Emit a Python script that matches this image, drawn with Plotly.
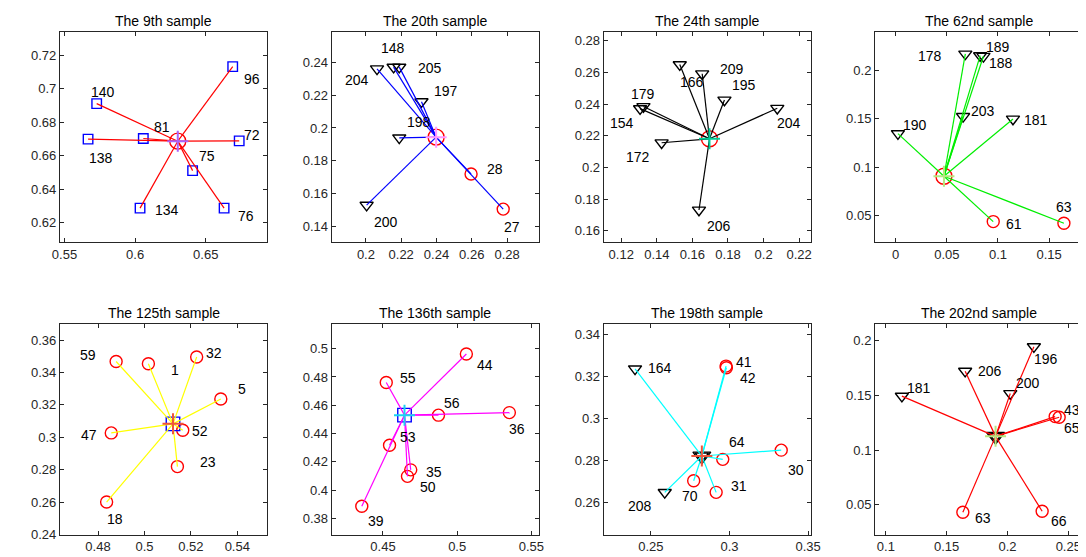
import plotly.graph_objects as go

W, H = 1086, 557

# ---------------- data ----------------
titles = ["The 9th sample", "The 20th sample", "The 24th sample", "The 62nd sample",
          "The 125th sample", "The 136th sample", "The 198th sample", "The 202nd sample"]
sample_ids = [9, 20, 24, 62, 125, 136, 198, 202]
center_x = [0.6302, 0.2398, 0.1696, 0.0472, 0.5123, 0.4645, 0.2824, 0.1902]
center_y = [0.6686, 0.1944, 0.2181, 0.0907, 0.3083, 0.4530, 0.2820, 0.1125]

nb_ids_9 = [96, 140, 81, 138, 72, 75, 134, 76]
nb_x_9 = [0.6691, 0.5728, 0.6058, 0.5667, 0.6737, 0.6407, 0.6035, 0.6630]
nb_y_9 = [0.7131, 0.6910, 0.6702, 0.6698, 0.6688, 0.6510, 0.6286, 0.6286]

nb_ids_20 = [148, 205, 204, 197, 198, 200, 28, 27]
nb_x_20 = [0.2157, 0.2189, 0.2063, 0.2315, 0.2189, 0.2004, 0.2596, 0.2778]
nb_y_20 = [0.2370, 0.2370, 0.2360, 0.2160, 0.1940, 0.1530, 0.1720, 0.1506]

nb_ids_24 = [209, 166, 195, 204, 179, 154, 172, 206]
nb_x_24 = [0.1655, 0.1529, 0.1780, 0.2077, 0.1325, 0.1306, 0.1427, 0.1637]
nb_y_24 = [0.2592, 0.2650, 0.2426, 0.2374, 0.2385, 0.2372, 0.2156, 0.1731]

nb_ids_62 = [178, 189, 188, 203, 181, 190, 61, 63]
nb_x_62 = [0.0681, 0.0826, 0.0858, 0.0659, 0.1147, 0.0022, 0.0954, 0.1645]
nb_y_62 = [0.2170, 0.2153, 0.2146, 0.1525, 0.1498, 0.1348, 0.0439, 0.0422]

nb_ids_125 = [59, 1, 32, 5, 47, 52, 23, 18]
nb_x_125 = [0.4878, 0.5017, 0.5225, 0.5329, 0.4857, 0.5165, 0.5142, 0.4837]
nb_y_125 = [0.3468, 0.3454, 0.3496, 0.3236, 0.3027, 0.3043, 0.2819, 0.2600]

nb_ids_136 = [44, 55, 56, 36, 53, 35, 50, 39]
nb_x_136 = [0.5062, 0.4522, 0.4874, 0.5352, 0.4544, 0.4687, 0.4665, 0.4357]
nb_y_136 = [0.4963, 0.4761, 0.4530, 0.4548, 0.4317, 0.4143, 0.4097, 0.3886]

nb_ids_198 = [164, 41, 42, 64, 30, 31, 70, 208]
nb_x_198 = [0.2399, 0.2978, 0.2980, 0.2957, 0.3329, 0.2915, 0.2772, 0.2588]
nb_y_198 = [0.3235, 0.3248, 0.3240, 0.2804, 0.2848, 0.2647, 0.2702, 0.2647]

nb_ids_202 = [196, 206, 200, 181, 43, 65, 63, 66]
nb_x_202 = [0.2217, 0.1652, 0.2023, 0.1132, 0.2392, 0.2425, 0.1633, 0.2285]
nb_y_202 = [0.1946, 0.1722, 0.1517, 0.1493, 0.1306, 0.1300, 0.0430, 0.0440]

nb_ids = [nb_ids_9, nb_ids_20, nb_ids_24, nb_ids_62, nb_ids_125, nb_ids_136, nb_ids_198, nb_ids_202]
nb_x = [nb_x_9, nb_x_20, nb_x_24, nb_x_62, nb_x_125, nb_x_136, nb_x_198, nb_x_202]
nb_y = [nb_y_9, nb_y_20, nb_y_24, nb_y_62, nb_y_125, nb_y_136, nb_y_198, nb_y_202]

# ---------------- styles / layout ----------------
line_colors = ["#FF0000", "#0000FF", "#000000", "#00EE00", "#FFFF00", "#FF00FF", "#00FFFF", "#FF0000"]
x_ranges = [[0.5468, 0.6937], [0.1806, 0.2982], [0.1101, 0.2267], [-0.0202, 0.1827],
            [0.4636, 0.5530], [0.4154, 0.5553], [0.2199, 0.3519], [0.0911, 0.2617]]
y_ranges = [[0.6082, 0.7338], [0.1304, 0.2584], [0.1527, 0.2856], [0.0225, 0.2397],
            [0.2399, 0.3698], [0.3685, 0.5173], [0.2446, 0.3447], [0.0226, 0.2151]]
x_dticks = [0.05, 0.02, 0.02, 0.05, 0.02, 0.05, 0.05, 0.05]
y_dticks = [0.02, 0.02, 0.02, 0.05, 0.02, 0.02, 0.02, 0.05]

# label pixel offsets (dx right, dy down)
label_off = [
    [(19.3, 12.3), (6.3, -11.3), (18.3, -11.7), (12.7, 18.7), (12.3, -5.7), (14, -15), (26.7, 2), (22, 7.7)],
    [(-1, -19), (30.7, 1), (-19.7, 11), (25, -10.7), (19.3, -15.7), (19.3, 17.3), (24.3, -5), (9.3, 17.7)],
    [(29.7, -4.3), (12.7, 17.7), (20, -15), (11.7, 14.3), (0, -12.7), (-17.7, 14.7), (-23.3, 14.3), (19.7, 16)],
    [(-35, 2.3), (17.7, -9), (17.7, 7), (19.7, -5.7), (22.7, 0.7), (16.7, -8.3), (20.7, 2.3), (0, -16.7)],
    [(-27.7, -7), (26.3, 6.7), (17.7, -3.7), (20.7, -9.7), (-22.7, 1.7), (17.3, 0.3), (30.3, -5), (8, 17.3)],
    [(18.3, 10.7), (21.7, -4.3), (13.3, -11.7), (7.7, 16), (18.3, -8.3), (23.3, 1.7), (21, 11), (14.3, 14.7)],
    [(25, -0.7), (18.3, -4), (22, 10.3), (14.3, -17.3), (14.3, 20.3), (22.7, -6), (-4, 15), (-25, 13.3)],
    [(12.3, 12.3), (25, 0.3), (17.3, -10.7), (16.7, -7.7), (16.7, -6.7), (13.3, 10.3), (20, 5.7), (16.7, 10)],
]

col_left = [44.7, 321.0, 597.5, 873.5]
col_w = 211.0
row_top = [24.3, 320.3]
row_h = 213.0

def cls_style(i):
    if i <= 70:
        return "circle-open", "#FF0000", 12
    if i <= 140:
        return "square-open", "#0000FF", 9.5
    return "triangle-down-open", "#000000", 11.5

AX = "#262626"
FONT = "Liberation Sans, Arial, sans-serif"

fig = go.Figure()
annotations = []
layout = {}

for k in range(8):
    r, c = divmod(k, 4)
    n = k + 1
    xa = "x" if n == 1 else f"x{n}"
    ya = "y" if n == 1 else f"y{n}"
    xkey = "xaxis" if n == 1 else f"xaxis{n}"
    ykey = "yaxis" if n == 1 else f"yaxis{n}"
    x0 = col_left[c] / W
    x1 = (col_left[c] + col_w) / W
    y1 = 1 - row_top[r] / H
    y0 = 1 - (row_top[r] + row_h) / H
    common = dict(showline=True, linecolor=AX, linewidth=1, mirror="ticks",
                  ticks="inside", ticklen=4, tickcolor=AX, tickwidth=1,
                  showgrid=False, zeroline=False,
                  tickfont=dict(family=FONT, size=13, color=AX))
    layout[xkey] = dict(domain=[x0, x1], range=x_ranges[k], anchor=ya,
                        tick0=0, dtick=x_dticks[k], **common)
    layout[ykey] = dict(domain=[y0, y1], range=y_ranges[k], anchor=xa,
                        tick0=0, dtick=y_dticks[k], **common)

    cx, cy = center_x[k], center_y[k]
    # lines from sample to neighbours
    lx, ly = [], []
    for px, py in zip(nb_x[k], nb_y[k]):
        lx += [cx, px, None]
        ly += [cy, py, None]
    # neighbour markers grouped by class
    for cls_lim in [(0, 70), (71, 140), (141, 10000)]:
        xs = [px for px, i in zip(nb_x[k], nb_ids[k]) if cls_lim[0] <= i <= cls_lim[1]]
        ys = [py for py, i in zip(nb_y[k], nb_ids[k]) if cls_lim[0] <= i <= cls_lim[1]]
        if not xs:
            continue
        sym, col, sz = cls_style(cls_lim[1] if cls_lim[1] < 10000 else 141)
        fig.add_trace(go.Scatter(x=xs, y=ys, mode="markers", xaxis=xa, yaxis=ya,
                                 marker=dict(symbol=sym, size=sz, color=col,
                                             line=dict(color=col, width=1.4)),
                                 showlegend=False, hoverinfo="skip"))
    # sample marker
    sym, col, sz = cls_style(sample_ids[k])
    fig.add_trace(go.Scatter(x=[cx], y=[cy], mode="markers", xaxis=xa, yaxis=ya,
                             marker=dict(symbol=sym, size=sz + 4, color=col,
                                         line=dict(color=col, width=1.4)),
                             showlegend=False, hoverinfo="skip"))
    if sample_ids[k] > 140:
        fig.add_trace(go.Scatter(x=[cx], y=[cy], mode="markers", xaxis=xa, yaxis=ya,
                                 marker=dict(symbol=sym, size=sz, color=col,
                                             line=dict(color=col, width=1.4)),
                                 showlegend=False, hoverinfo="skip"))
    fig.add_trace(go.Scatter(x=lx, y=ly, mode="lines", xaxis=xa, yaxis=ya,
                             line=dict(color=line_colors[k], width=1.2),
                             showlegend=False, hoverinfo="skip"))
    fig.add_trace(go.Scatter(x=[cx], y=[cy], mode="markers", xaxis=xa, yaxis=ya,
                             marker=dict(symbol="cross-thin-open", size=15,
                                         line=dict(color="#FF0000", width=2)),
                             showlegend=False, hoverinfo="skip"))
    # labels
    for (px, py, i, (dx, dy)) in zip(nb_x[k], nb_y[k], nb_ids[k], label_off[k]):
        annotations.append(dict(x=px, y=py, xref=xa, yref=ya, text=str(i),
                                showarrow=False, xshift=dx, yshift=-dy,
                                xanchor="center", yanchor="middle",
                                font=dict(family=FONT, size=14, color="#000000")))
    # title
    annotations.append(dict(x=0.5, y=1, xref=f"{xa} domain", yref=f"{ya} domain",
                            text=titles[k], showarrow=False, xanchor="center",
                            yanchor="bottom", yshift=1,
                            font=dict(family=FONT, size=14, color="#000000")))

fig.update_layout(width=W, height=H, margin=dict(l=0, r=0, t=0, b=0),
                  plot_bgcolor="white", paper_bgcolor="white",
                  annotations=annotations, showlegend=False, **layout)

fig.write_html("out.html")
